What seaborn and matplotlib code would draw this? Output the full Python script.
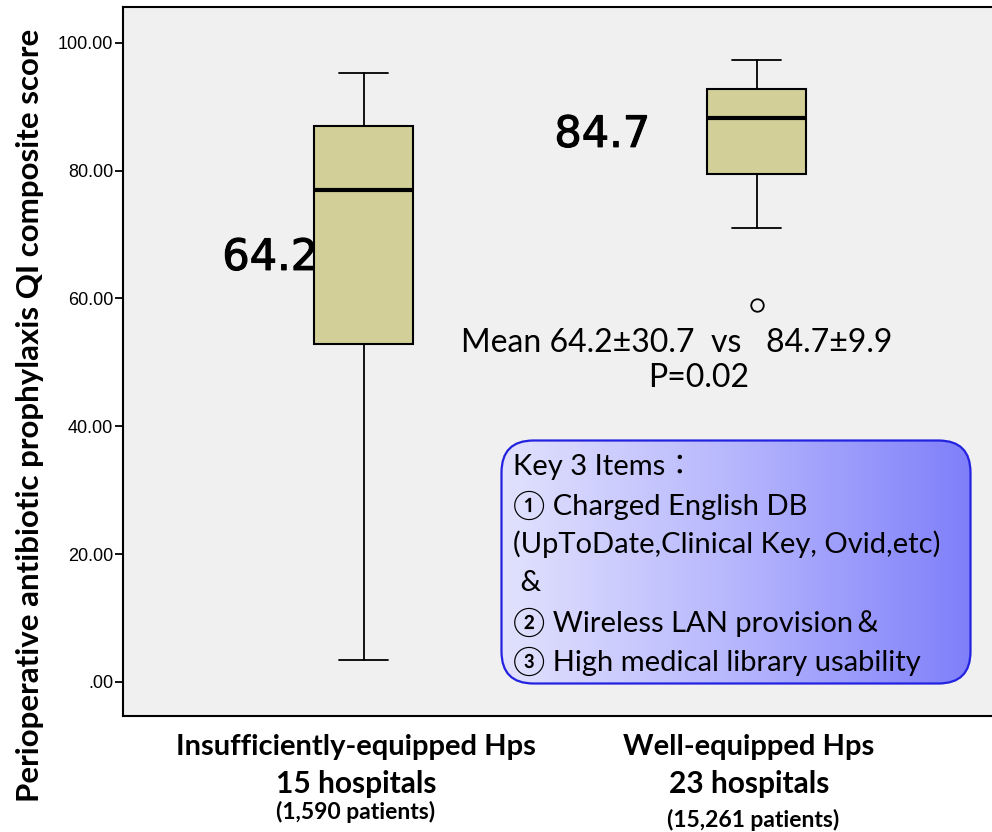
import numpy as np
import matplotlib
matplotlib.use("Agg")
import matplotlib.pyplot as plt
import matplotlib.patheffects as pe
import matplotlib.transforms as mtransforms
from matplotlib.colors import LinearSegmentedColormap
from matplotlib.patches import FancyBboxPatch
import seaborn as sns

sns.set_theme(style="white")
plt.rcParams["text.color"] = "black"
plt.rcParams["ytick.color"] = "black"
plt.rcParams["xtick.color"] = "black"

# values (five-number summary per group)
groups = ["Insufficiently-equipped Hps", "Well-equipped Hps"]
hospital_counts = ["15 hospitals", "23 hospitals"]
patient_counts = ["(1,590 patients)", "(15,261 patients)"]
whisker_low = [3.4, 71.0]
q1 = [52.9, 79.5]
medians = [76.95, 88.2]
q3 = [87.0, 92.75]
whisker_high = [95.35, 97.3]
outliers = [[], [59.0]]
means = [64.2, 84.7]
sds = [30.7, 9.9]
p_value = "0.02"

yticks = [0, 20, 40, 60, 80, 100]
ytick_labels = [".00", "20.00", "40.00", "60.00", "80.00", "100.00"]

key_lines = [
    "Key 3 Items：",
    "① Charged English DB",
    "(UpToDate,Clinical Key, Ovid,etc)",
    " &",
    "② Wireless LAN provision＆",
    "③ High medical library usability",
]

BOX_COLOR = "#d3cf99"
BG_COLOR = "#f0f0f0"
TEXT_FONT = ["Lato", "Noto Sans CJK JP", "DejaVu Sans"]
KEY_FONT = ["Lato", "DejaVu Sans", "Noto Sans CJK JP"]

W, H = 992, 832
fig = plt.figure(figsize=(W / 100, H / 100), dpi=100, facecolor="white")
ax = fig.add_axes([123 / W, 1 - 716 / H, 874 / W, 709 / H])
ax.set_facecolor(BG_COLOR)

stats = [
    dict(whislo=whisker_low[i], q1=q1[i], med=medians[i], q3=q3[i],
         whishi=whisker_high[i], fliers=outliers[i])
    for i in range(len(groups))
]
ax.bxp(
    stats,
    positions=range(len(groups)),
    widths=0.252,
    capwidths=0.125,
    patch_artist=True,
    boxprops=dict(facecolor=BOX_COLOR, edgecolor="black", linewidth=1.5),
    medianprops=dict(color="black", linewidth=3),
    whiskerprops=dict(color="black", linewidth=1.3),
    capprops=dict(color="black", linewidth=1.3),
    flierprops=dict(marker="o", markerfacecolor="none", markeredgecolor="black",
                    markersize=9, markeredgewidth=1.3),
)

ax.set_xlim(-0.613, 1.611)
ax.set_ylim(-5.32, 105.6)
ax.set_yticks(yticks)
ax.set_yticklabels(ytick_labels, family="Liberation Sans", fontsize=13)
ax.set_xticks([])
ax.tick_params(axis="y", left=True, length=6, width=1.3, color="black", pad=1)
for side in ["left", "bottom", "top"]:
    ax.spines[side].set_color("black")
    ax.spines[side].set_linewidth(1.5)
ax.spines["right"].set_visible(False)

# mean labels beside the boxes
thick = [pe.withStroke(linewidth=0.8, foreground="black")]
ax.text(-0.117, 66.35, f"{means[0]:.1f}", ha="right", va="center", fontsize=31,
        family="DejaVu Sans", path_effects=thick)
ax.text(1 - 0.272, 85.6, f"{means[1]:.1f}", ha="right", va="center", fontsize=31,
        family="DejaVu Sans", path_effects=thick)

ax.text(0.795, 53.05, f"Mean {means[0]}±{sds[0]}  vs   {means[1]}±{sds[1]}",
        ha="center", va="center", fontsize=23, family=TEXT_FONT)
ax.text(0.852, 47.6, f"P={p_value}", ha="center", va="center", fontsize=23,
        family=TEXT_FONT)

# category labels under the axis
trans = mtransforms.blended_transform_factory(ax.transData, fig.transFigure)
label_x = [-0.02, 0.98]
for i in range(len(groups)):
    ax.text(label_x[i], 1 - 747 / H, groups[i], transform=trans, ha="center",
            va="center", fontsize=21, fontweight="bold", family=TEXT_FONT)
    ax.text(label_x[i], 1 - 784 / H, hospital_counts[i], transform=trans, ha="center",
            va="center", fontsize=21.5, fontweight="bold", family=TEXT_FONT)
    ax.text(label_x[i] + 0.01 * i, 1 - (812 + 8 * i) / H, patient_counts[i], transform=trans,
            ha="center", va="center", fontsize=16.5, fontweight="bold", family=TEXT_FONT)

fig.text(30 / W, 1 - 415 / H, "Perioperative antibiotic prophylaxis QI composite score",
         rotation=90, ha="center", va="center", fontsize=22.5, fontweight="bold",
         family=TEXT_FONT)

# rounded key box with a left-to-right gradient
kax = fig.add_axes([500 / W, 1 - 685 / H, 472 / W, 246 / H])
kax.set_xlim(0, 472)
kax.set_ylim(0, 246)
kax.axis("off")
cmap = LinearSegmentedColormap.from_list("key", ["#e2e2fe", "#b6b6fd", "#7f7ffa"])
im = kax.imshow(np.linspace(0, 1, 256).reshape(1, -1), extent=[0, 472, 0, 246],
                cmap=cmap, aspect="auto", zorder=1)
frame = FancyBboxPatch((1.5, 1.5), 469, 243, boxstyle="round,pad=0,rounding_size=32",
                       facecolor="none", edgecolor="#2222e0", linewidth=1.6, zorder=2)
kax.add_patch(frame)
im.set_clip_path(frame)
for i, line in enumerate(key_lines):
    kax.text(13, 218 - i * 38.8, line, ha="left", va="center", fontsize=21,
             family=KEY_FONT, zorder=3)

fig.savefig("out.png", dpi=100, facecolor="white")
